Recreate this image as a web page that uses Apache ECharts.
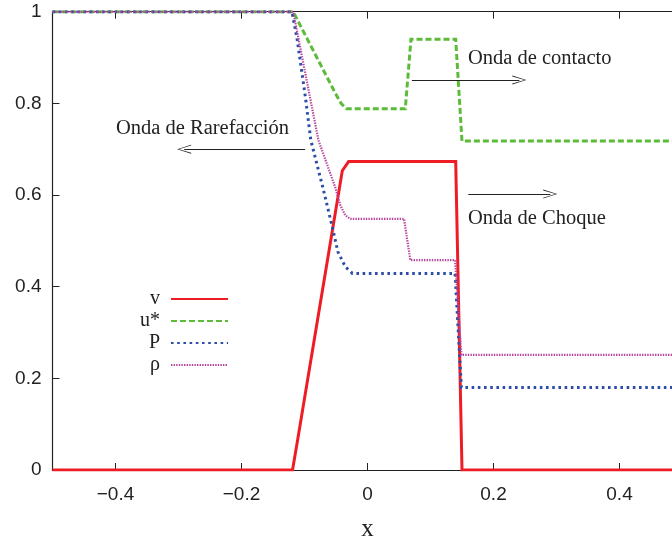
<!DOCTYPE html>
<html>
<head>
<meta charset="utf-8">
<script src="https://cdn.jsdelivr.net/npm/echarts@6/dist/echarts.min.js"></script>
<style>
  html, body { margin: 0; padding: 0; background: #ffffff; }
  #chart { width: 672px; height: 541px; }
</style>
</head>
<body>
<div id="chart"></div>
<script>
// Riemann problem profiles at fixed time: [x, value] pairs per variable
const seriesNames = ['v', 'u*', 'P', 'ρ'];

const vPoints = [
  [-0.5, 0], [-0.119, 0], [-0.111, 0.065], [-0.040, 0.653], [-0.030, 0.673],
  [0.140, 0.673], [0.150, 0], [0.5, 0]
];

const uStarPoints = [
  [-0.5, 1], [-0.118, 1], [-0.051, 0.822], [-0.042, 0.800], [-0.033, 0.788],
  [0.060, 0.788], [0.069, 0.940], [0.140, 0.940], [0.150, 0.718], [0.5, 0.718]
];

const pPoints = [
  [-0.5, 1], [-0.120, 1], [-0.112, 0.943], [-0.099, 0.818], [-0.090, 0.720],
  [-0.071, 0.617], [-0.0565, 0.534], [-0.047, 0.476], [-0.035, 0.443],
  [-0.024, 0.429], [0.139, 0.429], [0.149, 0.180], [0.5, 0.180]
];

const rhoPoints = [
  [-0.5, 1], [-0.118, 1], [-0.0925, 0.822], [-0.078, 0.720], [-0.0513, 0.617],
  [-0.0433, 0.578], [-0.0354, 0.556], [-0.0275, 0.548], [0.058, 0.548],
  [0.068, 0.458], [0.139, 0.458], [0.149, 0.251], [0.5, 0.251]
];

const yTicks = [0, 0.2, 0.4, 0.6, 0.8, 1];

const INK = '#222222';
const SANS = '"Liberation Sans", Arial, Helvetica, sans-serif';
const SERIF = '"Liberation Serif", "Times New Roman", Times, serif';

const styles = [
  { color: '#ee1c25', width: 3, type: 'solid' },
  { color: '#5dbb3a', width: 3, type: [6, 3] },
  { color: '#2d4ea8', width: 3, type: [2.6, 3.6] },
  { color: '#b8449f', width: 2.2, type: [1.4, 1.2] }
];
const pointSets = [vPoints, uStarPoints, pPoints, rhoPoints];

const chart = echarts.init(document.getElementById('chart'), null, { renderer: 'canvas' });

const fmtX = function (v) {
  if (Math.abs(v) > 0.45) return '';
  const s = String(+v.toFixed(1));
  return s.replace('-', '\u2212');
};

// one legend box per entry so the sample lines line up on the right
const legendCenters = [298, 320, 342, 364];
const legends = seriesNames.map(function (name, i) {
  return {
    data: [name],
    right: 443,
    top: legendCenters[i] - 9,
    align: 'right',
    orient: 'vertical',
    padding: 0,
    itemWidth: 57,
    itemHeight: 14,
    selectedMode: false,
    itemStyle: { opacity: 0 },
    textStyle: { fontFamily: SERIF, fontSize: 20, color: INK, padding: [0, 6, 0, 0] }
  };
});

const arrowHead = 'path://M0,14 L5,0 L10,14 L9,14 L5,1.8 L1,14 Z';

const series = seriesNames.map(function (name, i) {
  return {
    name: name,
    type: 'line',
    data: pointSets[i],
    symbol: 'none',
    showSymbol: false,
    lineStyle: { color: styles[i].color, width: styles[i].width, type: styles[i].type, cap: 'butt', join: 'miter' },
    itemStyle: { color: styles[i].color },
    animation: false,
    silent: true
  };
});

// wave annotations: arrows in data space
series.push({
  name: 'ondas',
  type: 'line',
  data: [],
  silent: true,
  animation: false,
  markLine: {
    silent: true,
    animation: false,
    symbol: ['none', arrowHead],
    symbolSize: [9, 14],
    label: { show: false },
    lineStyle: { color: INK, width: 1, type: 'solid' },
    itemStyle: { color: INK },
    emphasis: { disabled: true },
    data: [
      [{ coord: [-0.099, 0.700] }, { coord: [-0.291, 0.700] }],
      [{ coord: [0.0705, 0.851] }, { coord: [0.241, 0.851] }],
      [{ coord: [0.160, 0.602] }, { coord: [0.290, 0.602] }]
    ]
  }
});

const option = {
  animation: false,
  backgroundColor: '#ffffff',
  grid: { left: 52.5, right: -10.5, top: 11.7, bottom: 71, containLabel: false, outerBoundsMode: 'none' },
  legend: legends,
  xAxis: [
    {
      type: 'value',
      min: -0.5,
      max: 0.5,
      splitNumber: 5,
      position: 'bottom',
      name: 'x',
      nameLocation: 'middle',
      nameGap: 47,
      nameTextStyle: { fontFamily: SERIF, fontSize: 25, color: INK },
      axisLine: { show: true, onZero: false, lineStyle: { color: INK, width: 1.2 } },
      axisTick: { show: true, inside: true, length: 7, lineStyle: { color: INK, width: 1 } },
      axisLabel: { formatter: fmtX, fontFamily: SANS, fontSize: 19, color: INK, margin: 15 },
      splitLine: { show: false }
    },
    {
      type: 'value',
      min: -0.5,
      max: 0.5,
      splitNumber: 5,
      position: 'top',
      axisLine: { show: true, onZero: false, lineStyle: { color: INK, width: 1.2 } },
      axisTick: { show: true, inside: true, length: 7, lineStyle: { color: INK, width: 1 } },
      axisLabel: { show: false },
      splitLine: { show: false }
    }
  ],
  yAxis: {
    type: 'value',
    min: yTicks[0],
    max: yTicks[yTicks.length - 1],
    interval: 0.2,
    axisLine: { show: true, onZero: false, lineStyle: { color: INK, width: 1.2 } },
    axisTick: { show: true, inside: true, length: 7, lineStyle: { color: INK, width: 1 } },
    axisLabel: { fontFamily: SANS, fontSize: 19, color: INK, margin: 11 },
    splitLine: { show: false }
  },
  graphic: [
    { type: 'text', left: 116, top: 118, silent: true,
      style: { text: 'Onda de Rarefacción', fontFamily: SERIF, fontSize: 20.5, fill: INK } },
    { type: 'text', left: 468, top: 48, silent: true,
      style: { text: 'Onda de contacto', fontFamily: SERIF, fontSize: 20.5, fill: INK } },
    { type: 'text', left: 468, top: 208, silent: true,
      style: { text: 'Onda de Choque', fontFamily: SERIF, fontSize: 20.5, fill: INK } }
  ],
  series: series
};

chart.setOption(option);
</script>
</body>
</html>
